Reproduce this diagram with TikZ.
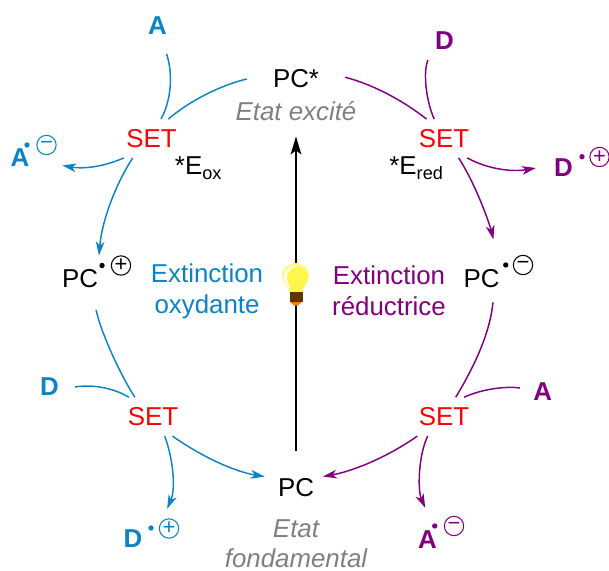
\documentclass[tikz,border=0pt]{standalone}
\usepackage{fontspec}
\setmainfont{Liberation Sans}
\usetikzlibrary{arrows.meta}
\definecolor{oxyblue}{RGB}{10,132,198}
\definecolor{redpurple}{RGB}{128,0,128}
\tikzset{
    every node/.style={inner sep=0pt, font=\fontsize{19.4}{23.25}\selectfont},
    setnode/.style={red, inner sep=7.5pt},
    pcnode/.style={inner sep=10.5pt},
    reagent/.style={font=\fontsize{19.4}{23.25}\selectfont\bfseries},
    state/.style={gray, align=center, font=\fontsize{19.4}{22.5}\selectfont\itshape},
    radical/.style={circle, fill, minimum size=4pt},
    charge/.style={circle, draw, line width=0.8pt, minimum size=14.5pt, font=\fontsize{16.5}{16.5}\selectfont},
    lineox/.style={oxyblue, line width=1.1pt},
    linered/.style={redpurple, line width=1.1pt},
    tipped/.style={-{Stealth[length=10.5pt,width=6.5pt,inset=3pt]}}
}
\begin{document}
\begin{tikzpicture}[x=0.75pt, y=-0.75pt]
    \useasboundingbox (0,0) rectangle (609,570);

    % PC states
    \node[inner xsep=19.5pt] (pcstar) at (296,79) {PC*};
    \node[state] (excite) at (296,111.5) {Etat excité};
    \node[inner xsep=9.75pt, inner ysep=1.5pt] (pcground) at (296,488) {PC};
    \node[state] (fond) at (296,544) {Etat\\fondamental};
    \node[pcnode] (pcplus) at (80,279) {PC};
    \node[pcnode] (pcminus) at (481.5,279) {PC};
    \node[radical] (dotpcplus) at (102,265.5) {};
    \node[charge] (chgpcplus) at (121,265.5) {+};
    \node[radical] (dotpcminus) at (505.7,265) {};
    \node[charge] (chgpcminus) at (523,265) {−};

    % SET steps
    \node[setnode] (settl) at (151.5,138.5) {SET};
    \node[setnode] (settr) at (444,138.5) {SET};
    \node[setnode] (setbl) at (153,416.7) {SET};
    \node[setnode] (setbr) at (444,416.7) {SET};

    % potentials
    \node[anchor=base] (eox) at (198.5,175) {*E\textsubscript{ox}};
    \node[anchor=base] (ered) at (416.5,175) {*E\textsubscript{red}};

    % quenching labels
    \node[oxyblue, align=center] (extox) at (207,291.5) {Extinction\\oxydante};
    \node[redpurple, align=center] (extred) at (389,290.5) {Extinction\\réductrice};

    % oxidative side species
    \begin{scope}[every node/.append style={oxyblue}]
        \node[reagent, inner sep=14pt] (atop) at (157.5,26) {A};
        \node[reagent, inner xsep=24.5pt] (aminus) at (20,158) {A};
        \node[radical] (dotaminus) at (27,145) {};
        \node[charge] (chgaminus) at (46.5,145) {−};
        \node[reagent, inner xsep=12pt] (dleft) at (49.5,387) {D};
        \node[reagent, inner xsep=18.4pt, inner ysep=15.75pt] (dplus) at (133,539) {D};
        \node[radical] (dotdplus) at (151,528) {};
        \node[charge] (chgdplus) at (169,528.5) {+};
    \end{scope}

    % reductive side species
    \begin{scope}[every node/.append style={redpurple}]
        \node[reagent, inner sep=7.5pt] (dtop) at (444.5,41) {D};
        \node[reagent, inner xsep=13.5pt] (dplusr) at (563.5,168) {D};
        \node[radical] (dotdplusr) at (582,156.7) {};
        \node[charge] (chgdplusr) at (599.5,157) {+};
        \node[reagent, inner xsep=10pt] (aright) at (542.8,392) {A};
        \node[reagent, inner ysep=17.25pt] (aminusr) at (427.5,540) {A};
        \node[radical] (dotaminusr) at (434.7,526) {};
        \node[charge] (chgaminusr) at (454,526) {−};
    \end{scope}

    % oxidative cycle
    \draw[lineox] (atop.-72) .. controls +(5.5,16) and +(12,-22) .. (settl.64);
    \draw[lineox] (pcstar.180) .. controls +(-25,6) and +(22,-19) .. (settl.49.8);
    \draw[lineox, tipped] (settl.215.4) .. controls +(-18,8) and +(23,4) .. (aminus.-10.8);
    \draw[lineox, tipped] (settl.226.4) .. controls +(-17,26) and +(3,-35) .. (pcplus.51.6);
    \draw[lineox, shorten <=5.8pt] (pcplus.-58.1) .. controls +(5.4,27.5) and +(-15,-23) .. (setbl.133.9);
    \draw[lineox] (dleft.east) .. controls +(18,-3) and +(-15,-9) .. (setbl.141);
    \draw[lineox, tipped] (setbl.-59.4) .. controls +(8,21) and +(9,-21) .. (dplus.north east);
    \draw[lineox, tipped] (setbl.-45.4) .. controls +(30,21) and +(-30,-5) .. (pcground.160.5);

    % reductive cycle
    \draw[linered] (pcstar.2.3) .. controls +(27,7) and +(-24,-19) .. (settr.132.7);
    \draw[linered] (dtop.229.3) .. controls +(-5,13) and +(-8,-19) .. (settr.117.1);
    \draw[linered, tipped] (settr.-40.5) .. controls +(22,12) and +(-22,4) .. (dplusr.west);
    \draw[linered, tipped, shorten >=12.4pt] (settr.-53.8) .. controls +(18,28) and +(-7.4,-30.5) .. (pcminus.56);
    \draw[linered] (pcminus.-64.3) .. controls +(-3,32) and +(17,-28) .. (setbr.59.5);
    \draw[linered] (aright.170) .. controls +(-15,-2) and +(17,-8) .. (setbr.44.5);
    \draw[linered, tipped] (setbr.216.6) .. controls +(-27,19) and +(33,-6) .. (pcground.23);
    \draw[linered, tipped] (setbr.230) .. controls +(-9,18) and +(-8,-18) .. (aminusr.94.5);

    % excitation arrow
    \draw[-{Stealth[length=13.5pt,width=8pt,inset=3pt]}, line width=1.5pt, shorten <=19pt, shorten >=36pt] (pcground.north) -- (pcstar.south);

    % light bulb
    \fill[yellow!45] (289,292) .. controls (288,285) and (282,283) .. (282,276) .. controls (282,268) and (288,263) .. (296,263) .. controls (304,263) and (309,269) .. (309,276) .. controls (309,283) and (303,286) .. (303,292) -- cycle;
    \fill[white] (291,292) .. controls (289,285) and (284,283) .. (284,277) .. controls (284,270) and (289,266) .. (296,266) -- (300,292) -- cycle;
    \fill[yellow!70!white] (291,292) .. controls (290,285) and (287,283) .. (287,277) .. controls (287,271) and (292,267) .. (297,267) .. controls (303,267) and (308,271) .. (308,276) .. controls (308,283) and (303,286) .. (302,292) -- cycle;
    \fill[black!60!orange] (289.5,292) rectangle (303,302);
    \fill[orange!80!brown] (290,302) -- (302,302) -- (298,305.5) -- (294,305.5) -- cycle;
\end{tikzpicture}
\end{document}
